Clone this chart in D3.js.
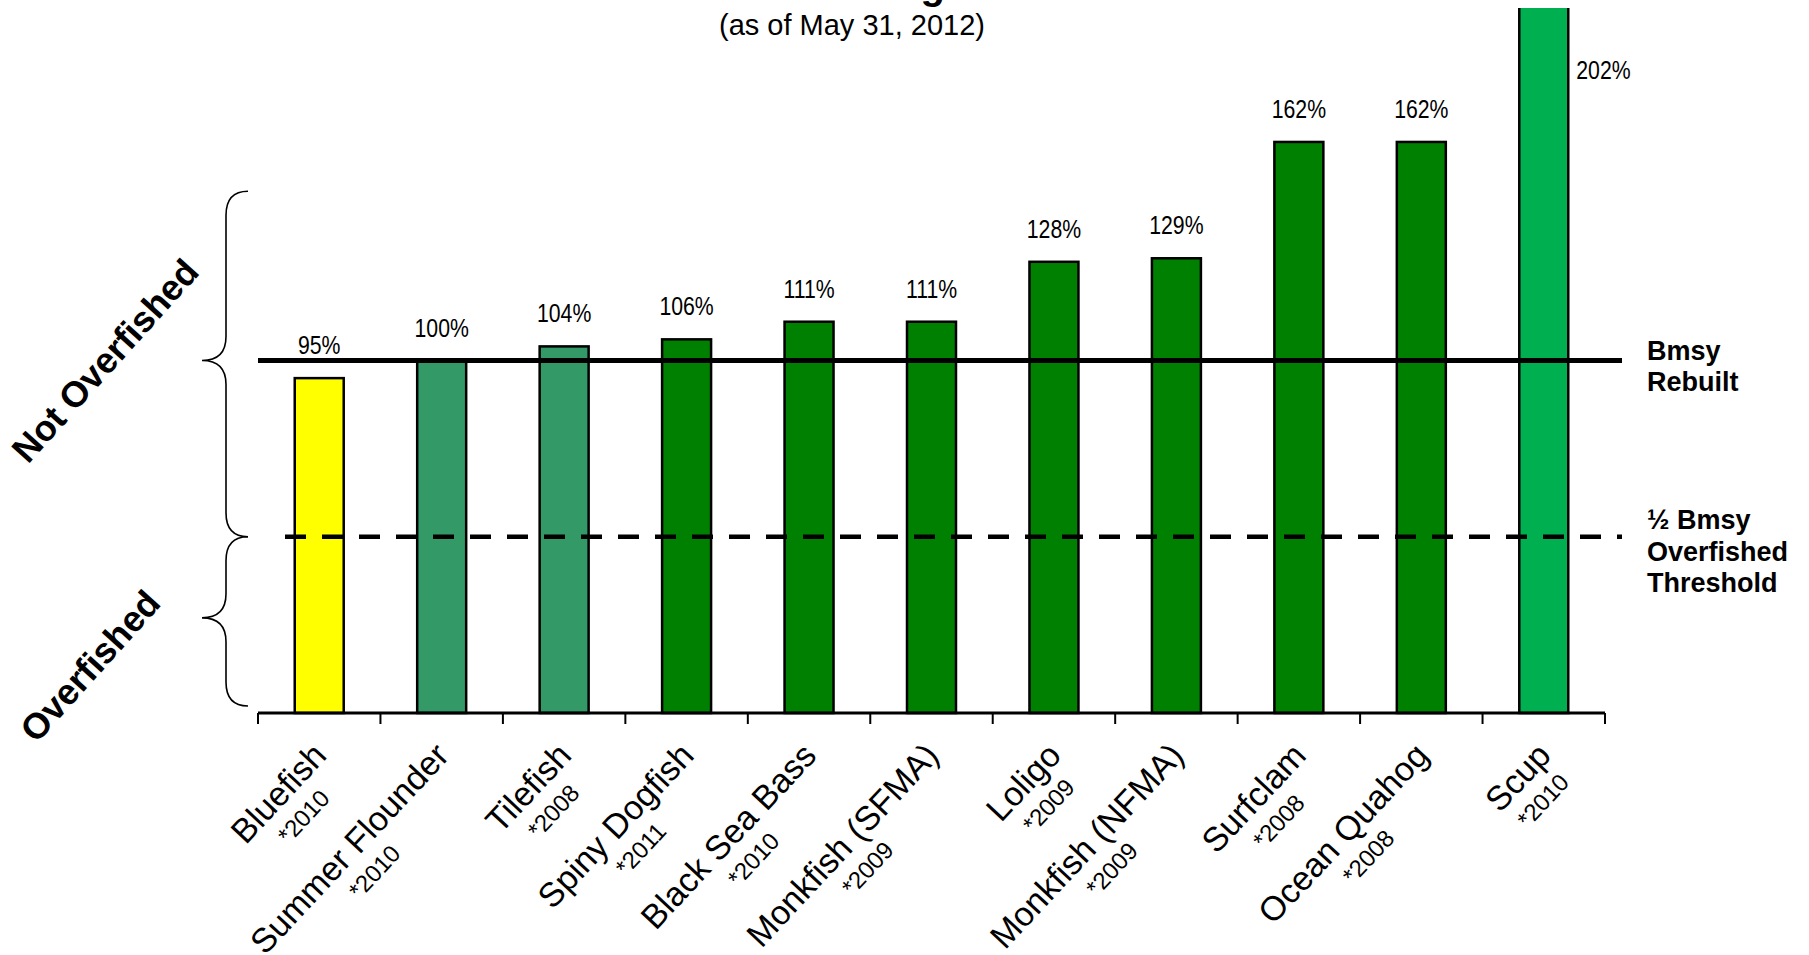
<!DOCTYPE html>
<html>
<head>
<meta charset="utf-8">
<script src="https://cdn.jsdelivr.net/npm/d3@7"></script>
<style>
  body { margin: 0; background: #fff; }
  text { font-family: "Liberation Sans", Arial, sans-serif; fill: #000; }
</style>
</head>
<body>
<div id="chart"></div>
<script>
'use strict';

// data
var stocks = ["Bluefish", "Summer Flounder", "Tilefish", "Spiny Dogfish", "Black Sea Bass",
              "Monkfish (SFMA)", "Loligo", "Monkfish (NFMA)", "Surfclam", "Ocean Quahog", "Scup"];
var assessYears = ["2010", "2010", "2008", "2011", "2010", "2009", "2009", "2009", "2008", "2008", "2010"];
var biomassPct = [95, 100, 104, 106, 111, 111, 128, 129, 162, 162, 202];
var stockClass = ["below", "rebuilt", "rebuilt", "above", "above", "above",
                  "above", "above", "above", "above", "far"];

var refValues = [100, 50];
var refLabels = [["Bmsy", "Rebuilt"], ["\u00bd Bmsy", "Overfished", "Threshold"]];

var zoneNames = ["Not Overfished", "Overfished"];
var zoneBounds = [[50, 148], [2, 50]];
var zoneTips = [100, 27];

// constants
var width = 1809,
    height = 955,
    yMax = 200;

var svg = d3.select("#chart")
  .append("svg")
    .attr("width", width)
    .attr("height", height);

svg.append("rect")
  .attr("width", width)
  .attr("height", height)
  .attr("fill", "#fff");

var x = d3.scaleBand()
  .domain(stocks)
  .range([258, 1605])
  .paddingInner(0.6)
  .paddingOuter(0.3);

var y = d3.scaleLinear()
  .domain([0, yMax])
  .range([713, 8]);

var color = d3.scaleOrdinal()
  .domain(["below", "rebuilt", "above", "far"])
  .range(["#ffff00", "#339966", "#008000", "#00b050"]);

var rows = stocks.map(function (s, i) {
  return { name: s, year: assessYears[i], v: biomassPct[i], cls: stockClass[i] };
});

// title (mostly cut off at the top) and date line
svg.append("text")
  .attr("x", 805)
  .attr("y", -1)
  .attr("text-anchor", "middle")
  .style("font-size", "40px")
  .style("font-weight", "bold")
  .text("Status of MAFMC Managed Stocks");

svg.append("text")
  .attr("x", 852)
  .attr("y", 35)
  .attr("text-anchor", "middle")
  .style("font-size", "29px")
  .text("(as of May 31, 2012)");

// Bars
// ====
svg.append("clipPath")
    .attr("id", "plotClip")
  .append("rect")
    .attr("x", 0)
    .attr("y", y(yMax))
    .attr("width", width)
    .attr("height", height);

svg.append("g")
    .attr("clip-path", "url(#plotClip)")
  .selectAll("rect")
  .data(rows)
  .enter().append("rect")
    .attr("x", function (d) { return x(d.name); })
    .attr("y", function (d) { return y(d.v); })
    .attr("width", x.bandwidth())
    .attr("height", function (d) { return y(0) - y(d.v); })
    .attr("fill", function (d) { return color(d.cls); })
    .attr("stroke", "#000")
    .attr("stroke-width", 2.5);

// value labels
svg.append("g").selectAll("text")
  .data(rows)
  .enter().append("text")
    .attr("transform", function (d) {
      var cx = x(d.name) + x.bandwidth() / 2;
      if (d.v > yMax) {
        return "translate(" + (x(d.name) + x.bandwidth() + 8) + "," + y(yMax * 0.9) + ") scale(0.85,1)";
      }
      return "translate(" + cx + "," + (y(d.v) - 24) + ") scale(0.85,1)";
    })
    .attr("text-anchor", function (d) { return d.v > yMax ? "start" : "middle"; })
    .style("font-size", "25px")
    .text(function (d) { return d.v + "%"; });

// reference lines
svg.append("line")
  .attr("x1", 258).attr("x2", 1622)
  .attr("y1", y(refValues[0])).attr("y2", y(refValues[0]))
  .attr("stroke", "#000")
  .attr("stroke-width", 5);

svg.append("line")
  .attr("x1", 285).attr("x2", 1622)
  .attr("y1", y(refValues[1])).attr("y2", y(refValues[1]))
  .attr("stroke", "#000")
  .attr("stroke-width", 4.5)
  .attr("stroke-dasharray", "21,16");

var refLabelShift = [15, 24];
refValues.forEach(function (v, i) {
  var lines = refLabels[i],
      mid = y(v) + refLabelShift[i];
  var t = svg.append("text")
    .attr("x", 1647)
    .style("font-size", "27px")
    .style("font-weight", "bold");
  lines.forEach(function (l, j) {
    t.append("tspan")
      .attr("x", 1647)
      .attr("y", mid + (j - (lines.length - 1) / 2) * 31.5)
      .text(l);
  });
});

// category axis
var x0 = x.range()[0],
    x1 = x.range()[1];

svg.append("line")
  .attr("x1", x0).attr("x2", x1)
  .attr("y1", y(0)).attr("y2", y(0))
  .attr("stroke", "#000")
  .attr("stroke-width", 3);

svg.append("g").selectAll("line")
  .data(d3.range(stocks.length + 1))
  .enter().append("line")
    .attr("x1", function (i) { return x0 + i * x.step(); })
    .attr("x2", function (i) { return x0 + i * x.step(); })
    .attr("y1", y(0))
    .attr("y2", y(0) + 11)
    .attr("stroke", "#000")
    .attr("stroke-width", 2);

var labels = svg.append("g").selectAll("g")
  .data(rows)
  .enter().append("g")
    .attr("transform", function (d) {
      return "translate(" + (x(d.name) + x.bandwidth() / 2 + 9) + ",757) rotate(-47)";
    });

labels.append("text")
  .attr("class", "nm")
  .attr("text-anchor", "end")
  .style("font-size", "34px")
  .text(function (d) { return d.name; });

labels.each(function () {
  var g = d3.select(this),
      len = g.select("text.nm").node().getComputedTextLength();
  g.append("text")
    .attr("x", -len / 2)
    .attr("y", 31)
    .attr("text-anchor", "middle")
    .style("font-size", "24px")
    .text(function (d) { return "*" + d.year; });
});

// braces + zone labels
function brace(y1, ym, y2) {
  var xe = 248, xs = 226, xt = 202, r = 24;
  return "M" + xe + "," + y1 +
    " Q" + xs + "," + y1 + " " + xs + "," + (y1 + r) +
    " L" + xs + "," + (ym - r) +
    " Q" + xs + "," + ym + " " + xt + "," + ym +
    " Q" + xs + "," + ym + " " + xs + "," + (ym + r) +
    " L" + xs + "," + (y2 - r) +
    " Q" + xs + "," + y2 + " " + xe + "," + y2;
}

zoneNames.forEach(function (z, i) {
  svg.append("path")
    .attr("d", brace(y(zoneBounds[i][1]), y(zoneTips[i]), y(zoneBounds[i][0])))
    .attr("fill", "none")
    .attr("stroke", "#000")
    .attr("stroke-width", 1.6);
});

var zoneLabelAt = [[105, 0], [90, 48]];
zoneNames.forEach(function (z, i) {
  svg.append("text")
    .attr("transform", "translate(" + zoneLabelAt[i][0] + "," + (y(zoneTips[i]) + zoneLabelAt[i][1]) + ") rotate(-48)")
    .attr("text-anchor", "middle")
    .attr("dy", "0.35em")
    .style("font-size", "36px")
    .style("font-weight", "bold")
    .text(z);
});
</script>
</body>
</html>
